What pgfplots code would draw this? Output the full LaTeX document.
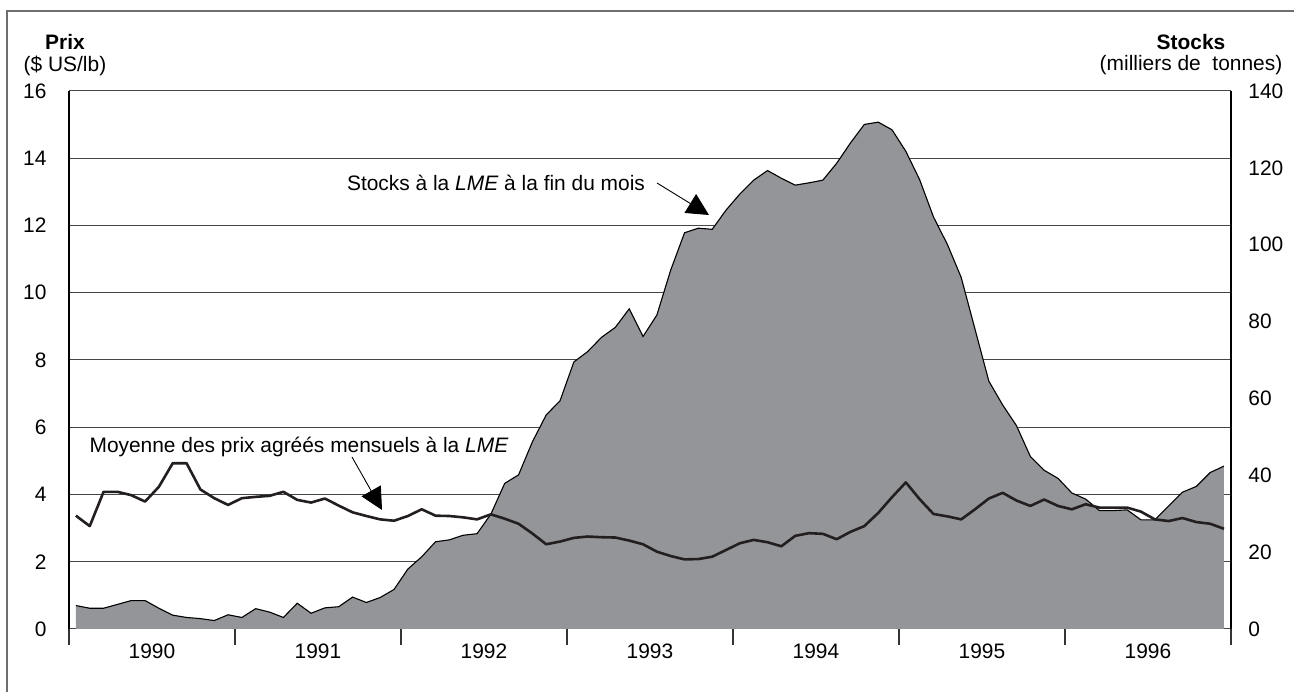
\documentclass[border=0pt]{standalone}
\usepackage{fontspec}
\setmainfont{Liberation Sans}
\usepackage{pgfplots}
\usepackage{pgfplotstable}
\pgfplotsset{compat=1.18}
\usetikzlibrary{arrows.meta}
\definecolor{areagray}{RGB}{147,149,152}
\definecolor{gridgray}{RGB}{70,70,70}
\definecolor{lineblack}{RGB}{35,31,32}
\definecolor{framegray}{RGB}{110,110,110}

\pgfplotstableread{
m price stocks
0.5 3.37 6.1
1.5 3.06 5.4
2.5 4.08 5.4
3.5 4.08 6.4
4.5 3.98 7.4
5.5 3.79 7.4
6.5 4.23 5.4
7.5 4.93 3.6
8.5 4.93 3.0
9.5 4.15 2.7
10.5 3.89 2.2
11.5 3.69 3.7
12.5 3.89 3.0
13.5 3.93 5.3
14.5 3.96 4.4
15.5 4.08 3.0
16.5 3.84 6.7
17.5 3.76 4.1
18.5 3.88 5.5
19.5 3.67 5.8
20.5 3.47 8.3
21.5 3.36 6.9
22.5 3.26 8.2
23.5 3.22 10.3
24.5 3.36 15.6
25.5 3.56 18.8
26.5 3.37 22.7
27.5 3.36 23.2
28.5 3.32 24.4
29.5 3.26 24.8
30.5 3.41 29.9
31.5 3.28 37.9
32.5 3.13 40.1
33.5 2.84 48.7
34.5 2.52 55.7
35.5 2.60 59.4
36.5 2.71 69.5
37.5 2.75 72.2
38.5 2.73 75.9
39.5 2.72 78.5
40.5 2.63 83.3
41.5 2.52 76.1
42.5 2.30 81.7
43.5 2.17 93.4
44.5 2.07 103.1
45.5 2.08 104.3
46.5 2.15 104.0
47.5 2.35 109.0
48.5 2.55 113.2
49.5 2.65 116.8
50.5 2.58 119.3
51.5 2.46 117.3
52.5 2.77 115.5
53.5 2.85 116.1
54.5 2.83 116.8
55.5 2.67 121.2
56.5 2.89 126.5
57.5 3.06 131.3
58.5 3.45 131.9
59.5 3.92 129.9
60.5 4.36 124.3
61.5 3.86 116.9
62.5 3.42 107.2
63.5 3.35 100.1
64.5 3.26 91.5
65.5 3.56 78.0
66.5 3.88 64.5
67.5 4.05 58.3
68.5 3.82 52.9
69.5 3.66 44.9
70.5 3.85 41.3
71.5 3.66 39.2
72.5 3.56 35.4
73.5 3.71 33.8
74.5 3.61 30.8
75.5 3.61 30.8
76.5 3.61 31.0
77.5 3.49 28.4
78.5 3.26 28.4
79.5 3.21 32.0
80.5 3.30 35.6
81.5 3.18 37.1
82.5 3.13 40.7
83.5 2.98 42.4
}\data

\begin{document}
\begin{tikzpicture}
\path[use as bounding box] (0,0) rectangle (1294bp,692bp);
\pgfplotsset{base/.style={at={(69bp,63bp)}, anchor=south west,
  width=1162bp, height=538bp, scale only axis, xmin=0, xmax=84,
  tick label style={font=\fontsize{21}{24}\selectfont},
  /pgf/number format/assume math mode=true}}
% price axis: grid, left axis line, left labels
\begin{axis}[base, ymin=0, ymax=16,
  axis x line=none, axis y line*=left,
  y axis line style={line width=1.5bp, black, -},
  xtick=\empty,
  ytick={0,2,...,16}, major tick length=0pt, ytick style={draw=none},
  ymajorgrids, major grid style={gridgray, line width=1bp},
  yticklabel style={xshift=-14bp}, yticklabel shift=5bp]
\end{axis}
% x ticks and year labels
\begin{axis}[base, ymin=0, ymax=16,
  axis x line*=bottom, axis y line=none,
  x axis line style={draw=none},
  xtick={0,12,...,84}, xticklabels={},
  tick align=outside, major tick length=16bp,
  xtick style={black!80, line width=1.3bp},
  extra x ticks={6,18,30,42,54,66,78},
  extra x tick labels={1990,1991,1992,1993,1994,1995,1996},
  extra x tick style={major tick length=0pt, xticklabel style={yshift=-11bp}}]
\end{axis}
% stocks axis
\begin{axis}[base, ymin=0, ymax=140,
  axis x line=none, axis y line*=right,
  y axis line style={line width=1.5bp, black, -},
  ytick={0,20,...,140}, major tick length=0pt, ytick style={draw=none},
  yticklabel style={xshift=7bp}, yticklabel shift=7bp]
\addplot[fill=areagray, draw=none] table[x=m, y=stocks]{\data} \closedcycle;
\addplot[black, line width=1.1bp] table[x=m, y=stocks]{\data};
\end{axis}
% price line
\begin{axis}[base, ymin=0, ymax=16, hide axis]
\addplot[lineblack, line width=2.6bp, line join=round] table[x=m, y=price]{\data};
\end{axis}

\node[font=\fontsize{21}{24}\selectfont] at (496bp,509bp) {Stocks à la \textit{LME} à la fin du mois};
\node[font=\fontsize{21}{24}\selectfont] at (299bp,245bp) {Moyenne des prix agréés mensuels à la \textit{LME}};
\draw[line width=0.9bp, -{Triangle[length=22bp,width=22bp]}] (657bp,509bp) -- (709bp,477bp);
\draw[line width=0.9bp, -{Triangle[length=22bp,width=22bp]}] (352bp,235bp) -- (382bp,182bp);

\node[font=\bfseries\fontsize{21}{24}\selectfont] at (65bp,650bp) {Prix};
\node[font=\fontsize{21}{24}\selectfont] at (65bp,626bp) {(\$ US/lb)};
\node[font=\bfseries\fontsize{21}{24}\selectfont] at (1191bp,650bp) {Stocks};
\node[font=\fontsize{21}{24}\selectfont] at (1191bp,627bp) {(milliers de\ \ tonnes)};

\draw[framegray, line width=1.3bp] (7bp,0bp) -- (7bp,681bp) -- (1294bp,681bp);
\end{tikzpicture}
\end{document}
